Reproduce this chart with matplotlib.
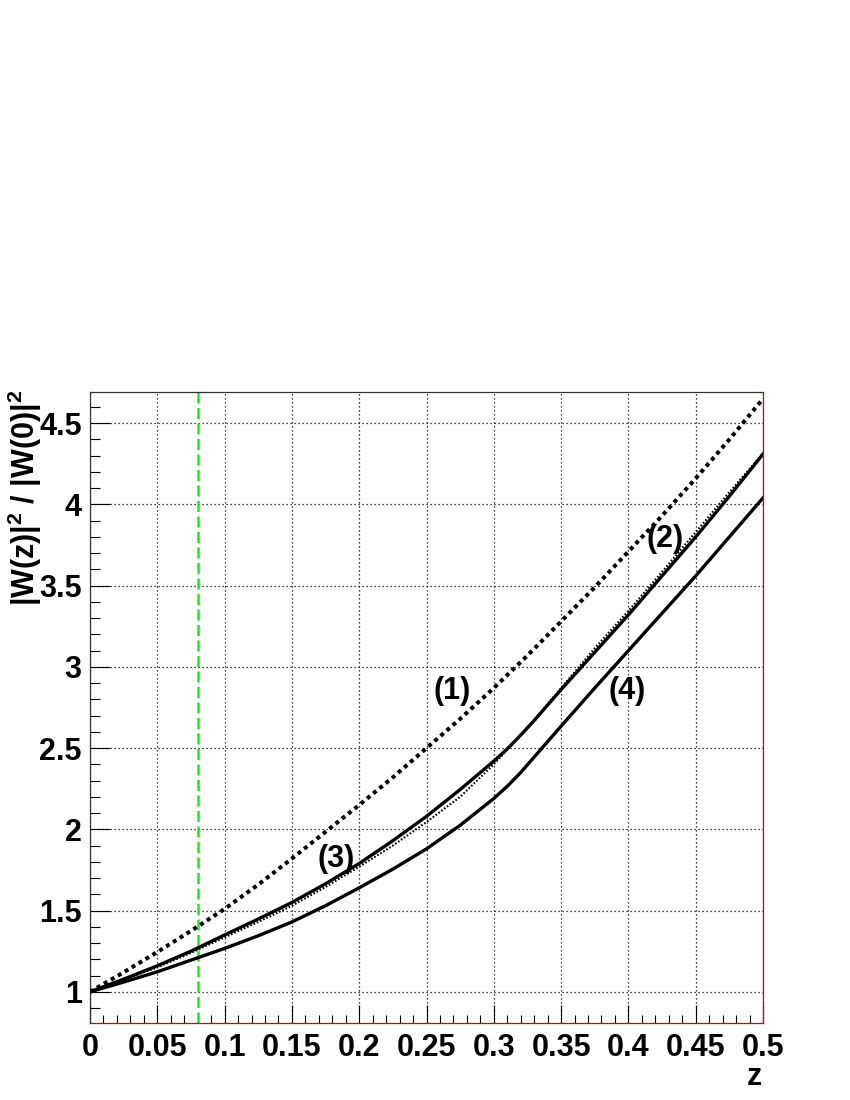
"""
Relative |W(z)|^2 / |W(0)|^2 versus redshift z for four model curves,
with a marker at z = 0.08.  ROOT-like styling.
"""

import matplotlib
matplotlib.use("Agg")
import matplotlib.pyplot as plt
from matplotlib.ticker import MultipleLocator, FormatStrFormatter

# ---------------------------------------------------------------------------
# Data
# ---------------------------------------------------------------------------
Z_GRID = [0.0, 0.025, 0.05, 0.075, 0.1, 0.125, 0.15, 0.175, 0.2, 0.225,
          0.25, 0.275, 0.3, 0.325, 0.35, 0.375, 0.4, 0.425, 0.45, 0.475, 0.5]

# (1) thick dotted
W1 = [1.0, 1.12, 1.245, 1.375, 1.51, 1.66, 1.82, 1.985, 2.15, 2.32,
      2.5, 2.68, 2.87, 3.07, 3.28, 3.49, 3.71, 3.93, 4.16, 4.40, 4.65]

# (2) thick solid, upper (slight bend near z ~ 0.315)
Z2 = [0.0, 0.025, 0.05, 0.075, 0.1, 0.125, 0.15, 0.175, 0.2, 0.225,
      0.25, 0.275, 0.3, 0.31, 0.32, 0.33, 0.35, 0.375, 0.4, 0.425, 0.45,
      0.475, 0.5]
W2 = [1.0, 1.078, 1.16, 1.25, 1.35, 1.448, 1.55, 1.665, 1.79, 1.93,
      2.08, 2.245, 2.42, 2.495, 2.58, 2.67, 2.86, 3.09, 3.32, 3.56, 3.80,
      4.05, 4.31]

# (3) thin dotted, hugging (2)
W3 = [1.0, 1.075, 1.15, 1.24, 1.335, 1.43, 1.53, 1.645, 1.77, 1.90,
      2.045, 2.20, 2.40, 2.625, 2.87, 3.115, 3.345, 3.585, 3.83, 4.075, 4.315]

# (4) thick solid, lower (bend near z ~ 0.32)
Z4 = [0.0, 0.025, 0.05, 0.075, 0.1, 0.125, 0.15, 0.175, 0.2, 0.225,
      0.25, 0.275, 0.3, 0.31, 0.32, 0.33, 0.34, 0.35, 0.375, 0.4,
      0.425, 0.45, 0.475, 0.5]
W4 = [1.0, 1.06, 1.123, 1.195, 1.267, 1.345, 1.43, 1.53, 1.64, 1.755,
      1.88, 2.025, 2.19, 2.265, 2.35, 2.445, 2.54, 2.635, 2.87, 3.10,
      3.33, 3.56, 3.80, 4.04]

Z_MARK = 0.08

# curve labels: text, z, value
LABELS = [("(1)", 0.269, 2.854),
          ("(2)", 0.427, 3.79),
          ("(3)", 0.183, 1.82),
          ("(4)", 0.399, 2.854)]

X_RANGE = (0.0, 0.5)
Y_RANGE = (0.808, 4.692)

OUTPUT_FILE = "out.png"

# ---------------------------------------------------------------------------
# Style
# ---------------------------------------------------------------------------
plt.rcParams["font.family"] = ["Liberation Sans", "DejaVu Sans"]
plt.rcParams["font.weight"] = "bold"
plt.rcParams["mathtext.fontset"] = "custom"
plt.rcParams["mathtext.rm"] = "Liberation Sans:bold"
plt.rcParams["mathtext.it"] = "Liberation Sans:bold"
plt.rcParams["mathtext.bf"] = "Liberation Sans:bold"

FS = 22


def main():
    fig = plt.figure(figsize=(8.5, 11), dpi=100)
    ax = fig.add_axes([90 / 850, 1 - 1023 / 1100, 673 / 850, 631 / 1100])

    # grid + vertical marker
    ax.grid(True, which="major", color="black", linestyle=(0, (1, 2.2)),
            linewidth=0.9)
    ax.axvline(Z_MARK, color="#00ff00", linewidth=1.8,
               linestyle=(0, (4.4, 1.8)), zorder=2)

    # curves
    ax.plot(Z_GRID, W1, color="black", linewidth=2.9,
            linestyle=(0, (1, 1)), zorder=3)
    ax.plot(Z2, W2, color="black", linewidth=2.4, zorder=3)
    ax.plot(Z_GRID, W3, color="black", linewidth=1.5,
            linestyle=(0, (0.8, 0.9)), zorder=3)
    ax.plot(Z4, W4, color="black", linewidth=2.4, zorder=3)

    for txt, zx, wy in LABELS:
        ax.text(zx, wy, txt, ha="center", va="center", fontsize=FS,
                fontweight="bold", zorder=4)

    ax.set_xlim(*X_RANGE)
    ax.set_ylim(*Y_RANGE)

    # ticks, ROOT style (inward, left/bottom only)
    ax.xaxis.set_major_locator(MultipleLocator(0.05))
    ax.xaxis.set_minor_locator(MultipleLocator(0.01))
    ax.yaxis.set_major_locator(MultipleLocator(0.5))
    ax.yaxis.set_minor_locator(MultipleLocator(0.1))
    ax.xaxis.set_major_formatter(FormatStrFormatter("%g"))
    ax.yaxis.set_major_formatter(FormatStrFormatter("%g"))

    ax.tick_params(axis="both", which="both", direction="in",
                   top=False, right=False, width=0.8, labelsize=FS)
    ax.tick_params(axis="x", which="major", length=13, pad=7)
    ax.tick_params(axis="x", which="minor", length=5.8)
    ax.tick_params(axis="y", which="major", length=14.4, pad=6)
    ax.tick_params(axis="y", which="minor", length=7.2)
    for lab in ax.get_xticklabels() + ax.get_yticklabels():
        lab.set_fontweight("bold")

    # frame: left/top dark, right/bottom red
    for side in ("left", "top"):
        ax.spines[side].set_color("#333333")
        ax.spines[side].set_linewidth(0.9)
    for side in ("right", "bottom"):
        ax.spines[side].set_color("#dd0000")
        ax.spines[side].set_linewidth(0.9)

    # axis titles placed at the axis ends
    fig.text(0.029, 1 - 390 / 1100, r"|W(z)|$^2$ / |W(0)|$^2$",
             rotation=90, ha="center", va="top", fontsize=FS,
             fontweight="bold")
    fig.text(762 / 850, 1 - 1077 / 1100, "z", ha="right", va="center",
             fontsize=FS, fontweight="bold")

    fig.savefig(OUTPUT_FILE, dpi=100)
    plt.close(fig)


if __name__ == "__main__":
    main()
